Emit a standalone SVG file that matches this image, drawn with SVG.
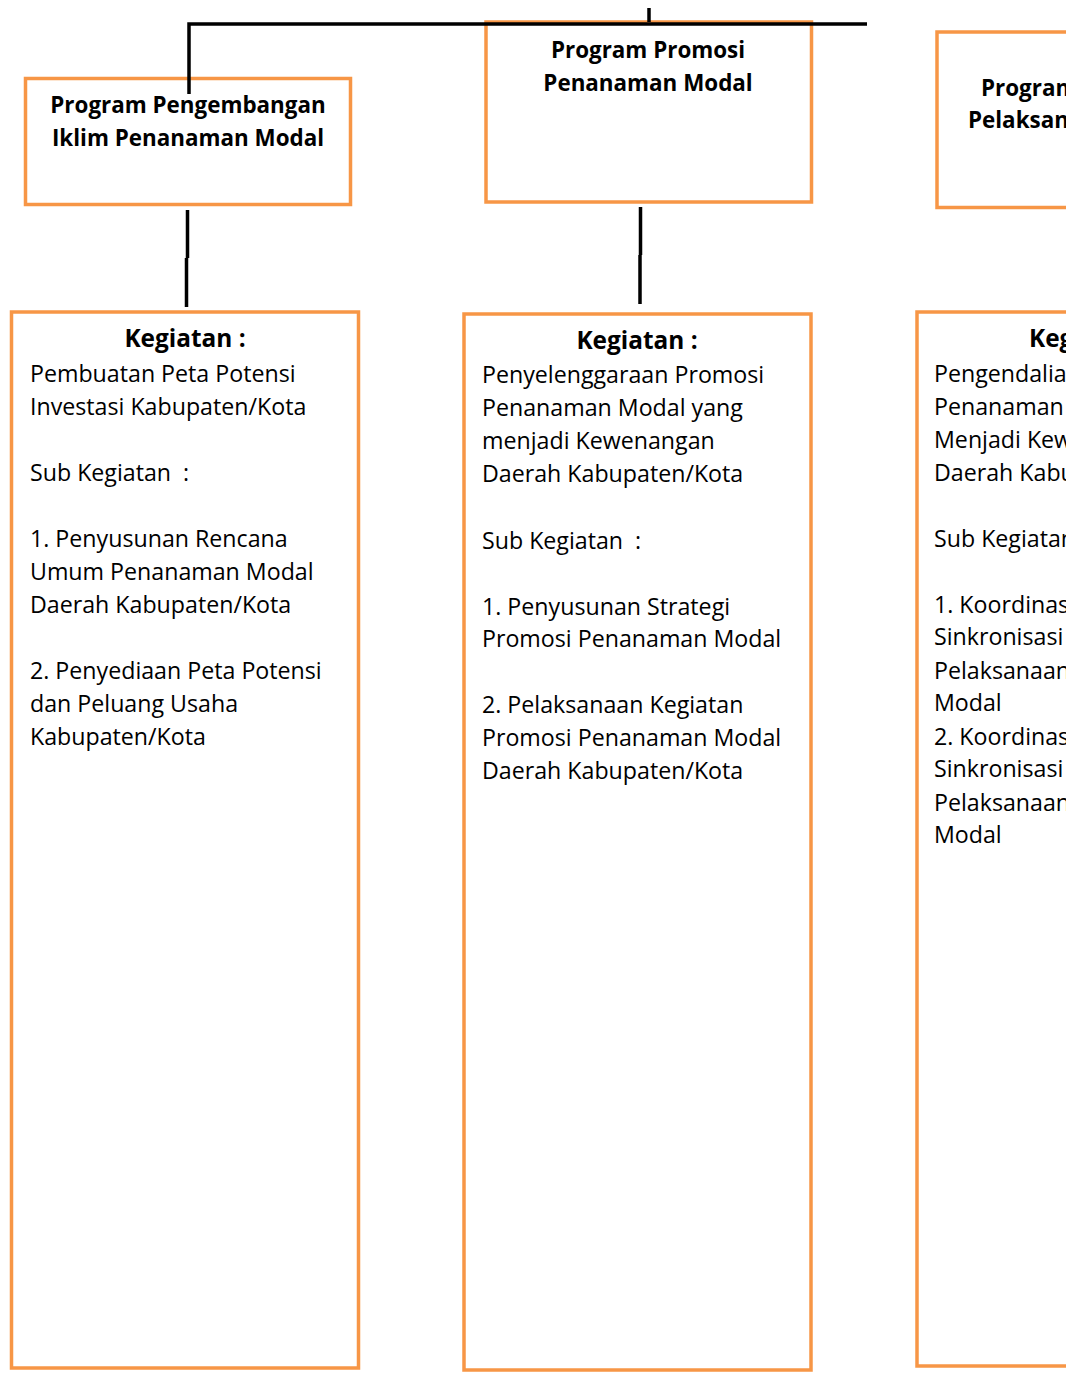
<svg xmlns="http://www.w3.org/2000/svg" width="1078" height="1374" viewBox="0 0 1078 1374">
<style>
.box{fill:#fff;stroke:#F79646;stroke-width:3.5}
.conn{stroke:#000;stroke-width:3.5;fill:none}
.t{font-family:"Open Sans","Noto Sans","Liberation Sans",sans-serif;font-size:23.2px;fill:#000}
.h{font-weight:bold;font-size:22.4px}
.k{font-weight:bold;font-size:24.4px}
.c{text-anchor:middle}
</style>
<defs>
<clipPath id="page"><rect x="0" y="0" width="1066" height="1374"/></clipPath>
</defs>
<rect x="0" y="0" width="1078" height="1374" fill="#fff"/>
<g clip-path="url(#page)">
<g id="prog1">
<rect class="box" x="25.5" y="78.5" width="325" height="126"/>
<text class="t h c" x="188" y="113">Program Pengembangan</text>
<text class="t h c" x="188" y="146">Iklim Penanaman Modal</text>
</g>
<g id="prog2">
<rect class="box" x="486" y="22" width="325.5" height="180"/>
<text class="t h c" x="648" y="58">Program Promosi</text>
<text class="t h c" x="648" y="91">Penanaman Modal</text>
</g>
<g id="prog3">
<rect class="box" x="937" y="32" width="330" height="175.5"/>
<text class="t h" x="981" y="96">Program</text>
<text class="t h" x="968" y="128">Pelaksanaan</text>
</g>
<g id="keg1">
<rect class="box" x="11.5" y="312" width="347" height="1056"/>
<text class="t k c" x="185" y="347">Kegiatan :</text>
<text class="t" x="30" y="382">Pembuatan Peta Potensi</text>
<text class="t" x="30" y="415">Investasi Kabupaten/Kota</text>
<text class="t" x="30" y="481" xml:space="preserve">Sub Kegiatan  :</text>
<text class="t" x="30" y="547">1. Penyusunan Rencana</text>
<text class="t" x="30" y="580">Umum Penanaman Modal</text>
<text class="t" x="30" y="613">Daerah Kabupaten/Kota</text>
<text class="t" x="30" y="679">2. Penyediaan Peta Potensi</text>
<text class="t" x="30" y="712">dan Peluang Usaha</text>
<text class="t" x="30" y="745">Kabupaten/Kota</text>
</g>
<g id="keg2">
<rect class="box" x="464" y="314" width="347" height="1056"/>
<text class="t k c" x="637" y="349">Kegiatan :</text>
<text class="t" x="482" y="383">Penyelenggaraan Promosi</text>
<text class="t" x="482" y="416">Penanaman Modal yang</text>
<text class="t" x="482" y="449">menjadi Kewenangan</text>
<text class="t" x="482" y="482">Daerah Kabupaten/Kota</text>
<text class="t" x="482" y="549" xml:space="preserve">Sub Kegiatan  :</text>
<text class="t" x="482" y="615">1. Penyusunan Strategi</text>
<text class="t" x="482" y="647">Promosi Penanaman Modal</text>
<text class="t" x="482" y="713">2. Pelaksanaan Kegiatan</text>
<text class="t" x="482" y="746">Promosi Penanaman Modal</text>
<text class="t" x="482" y="779">Daerah Kabupaten/Kota</text>
</g>
<g id="keg3">
<rect class="box" x="917" y="312" width="350" height="1054"/>
<text class="t k" x="1029" y="347">Kegiatan :</text>
<text class="t" x="934" y="382">Pengendalian</text>
<text class="t" x="934" y="415">Penanaman</text>
<text class="t" x="934" y="448">Menjadi Kewenangan</text>
<text class="t" x="934" y="481">Daerah Kabupaten</text>
<text class="t" x="934" y="547">Sub Kegiatan</text>
<text class="t" x="934" y="613">1. Koordinasi</text>
<text class="t" x="934" y="645">Sinkronisasi</text>
<text class="t" x="934" y="679">Pelaksanaan</text>
<text class="t" x="934" y="711">Modal</text>
<text class="t" x="934" y="745">2. Koordinasi</text>
<text class="t" x="934" y="777">Sinkronisasi</text>
<text class="t" x="934" y="811">Pelaksanaan</text>
<text class="t" x="934" y="843">Modal</text>
</g>
<g id="connectors">
<path class="conn" d="M189,94 V24 H867"/>
<path class="conn" d="M649,8 V22"/>
<path class="conn" d="M187.5,210 V258 M186.5,258 V307"/>
<path class="conn" d="M640.5,207 V255 M640,255 V304"/>
</g>
</g>
</svg>
